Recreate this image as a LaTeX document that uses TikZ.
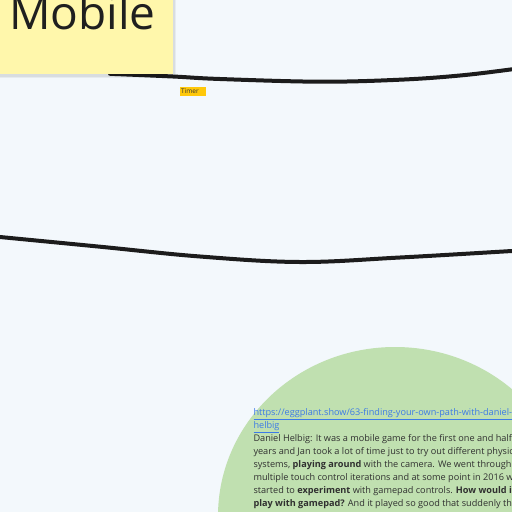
\documentclass[tikz,border=0pt]{standalone}
\usepackage{fontspec}
\setmainfont{Open Sans}
\definecolor{bgc}{HTML}{F3F8FC}
\definecolor{stickyc}{HTML}{FFF7AB}
\definecolor{greenc}{HTML}{C0E0B0}
\definecolor{timerc}{HTML}{FFC80A}
\definecolor{linec}{HTML}{1C1C1C}
\definecolor{linkc}{HTML}{3C7AE6}
\definecolor{txtc}{HTML}{303030}
\tikzset{
  curveline/.style={draw=linec, line width=4pt, line cap=round},
  bodyline/.style={anchor=base west, inner sep=0pt, text=txtc, font=\fontsize{9.15}{13}\selectfont},
  linkline/.style={anchor=base west, inner sep=0pt, text=linkc, font=\fontsize{9.15}{13}\selectfont},
}
\begin{document}
\begin{tikzpicture}[x=1pt,y=-1pt]
\useasboundingbox (0,0) rectangle (512,512);
\fill[bgc] (0,0) rectangle (512,512);
% curves
\draw[curveline] plot[smooth, tension=0.6] coordinates {(110,73.8) (173,76.5) (220,79) (320,81.7) (400,79.7) (460,75.5) (512,69.3) (530,66.5)};
\draw[curveline] plot[smooth, tension=0.6] coordinates {(-15,235.5) (0,237) (100,246.7) (200,256.5) (300,262) (400,257.5) (512,251) (530,250)};
% sticky note shadow and body
\fill[black, opacity=0.05] (-2,-2) rectangle (176,78);
\fill[black, opacity=0.06] (-2,-2) rectangle (175,76.5);
\node[fill=stickyc, minimum width=173pt, minimum height=74pt, anchor=north west, inner sep=0pt] (note) at (0,0) {};
\node[anchor=base west, inner sep=0pt, font=\fontsize{46}{50}\selectfont, text=black!88] (mobile) at (9,29.5) {Mobile};
% timer label
\node[fill=timerc, anchor=north west, minimum width=26pt, minimum height=9pt, inner sep=0pt] (timerbox) at (180,87) {};
\node[anchor=west, inner sep=0pt, font=\fontsize{6.5}{7}\selectfont, text=black!80] (timer) at (181,91.5) {Timer};
% green circle
\fill[greenc] (395,516) ellipse [x radius=177pt, y radius=169pt];
% text
\node[linkline] (l1) at (253.3,415.7) {\underline{https://eggplant.show/63-finding-your-own-path-with-daniel-}};
\node[linkline] (l2) at (253.3,428.5) {\underline{helbig}};
\node[bodyline] (l3) at (253.3,441.3) {Daniel Helbig: It was a mobile game for the first one and half};
\node[bodyline] (l4) at (253.3,454.3) {years and Jan took a lot of time just to try out different physics};
\node[bodyline] (l5) at (253.3,467.3) {systems, \textbf{playing around} with the camera. We went through};
\node[bodyline] (l6) at (253.3,480.3) {multiple touch control iterations and at some point in 2016 we};
\node[bodyline] (l7) at (253.3,493.3) {started to \textbf{experiment} with gamepad controls. \textbf{How would it}};
\node[bodyline] (l8) at (253.3,506.3) {\textbf{play with gamepad?} And it played so good that suddenly the};
\end{tikzpicture}
\end{document}
